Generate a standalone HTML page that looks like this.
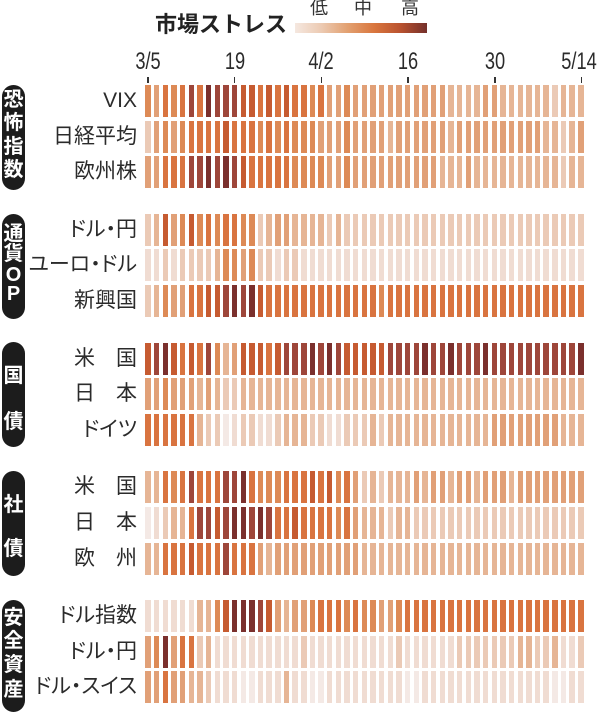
<!DOCTYPE html>
<html><head><meta charset="utf-8">
<style>
*{margin:0;padding:0;box-sizing:border-box}
body{width:600px;height:708px;background:#fff;position:relative;overflow:hidden;font-family:"Liberation Sans","Noto Sans CJK JP",sans-serif;color:#2b2b2b}
.r{position:absolute;left:145.3px;height:32px;display:flex}
.r i{display:block;width:5.4px;height:32px;margin-right:3.27px;flex:none}
.c0{background:#f4e9e5}.c1{background:#f0dcd2}.c2{background:#ebcab6}.c3{background:#e6b595}.c4{background:#e1a077}
.c5{background:#dd8a56}.c6{background:#d97440}.c7{background:#c65b31}.c8{background:#9e463a}.c9{background:#7b302d}
.l{position:absolute;right:463px;height:32px;line-height:32px;font-size:21px;white-space:nowrap;color:#2b2b2b}
.k2{font-feature-settings:"palt"}
.p{position:absolute;left:2px;width:23px;background:#1c1c1c;border-radius:12px;color:#fff;font-weight:bold;font-size:20px;text-align:center}
.p span{position:absolute;left:0;width:23px;height:20px;line-height:20px;display:block}
.t{position:absolute;top:48px;width:60px;margin-left:-30px;text-align:center;font-size:24px;line-height:28px;transform:scaleX(.76);color:#2b2b2b}
.k{position:absolute;top:77px;width:1.6px;height:6px;margin-left:-0.8px;background:#333}
.h{position:absolute;font-size:18px;line-height:18px;top:-1px;color:#333;width:20px;margin-left:-10px;text-align:center}
</style></head><body>

<div style="position:absolute;left:155px;top:12px;font-size:22px;line-height:26px;font-weight:bold;color:#222;white-space:nowrap">市場ストレス</div>
<div style="position:absolute;left:295px;top:22.5px;width:132px;height:10px;background:linear-gradient(to right,#f5e8e0 0%,#eccab2 20%,#e2a070 40%,#d9763e 60%,#b9522f 80%,#74302b 100%)"></div>
<div class="h" style="left:319px">低</div>
<div class="h" style="left:363px">中</div>
<div class="h" style="left:410px">高</div>

<div class="t" style="left:148px">3/5</div>
<div class="t" style="left:234.7px">19</div>
<div class="t" style="left:321.4px">4/2</div>
<div class="t" style="left:408.1px">16</div>
<div class="t" style="left:494.8px">30</div>
<div class="t" style="left:579px">5/14</div>
<div class="k" style="left:148px"></div>
<div class="k" style="left:234.7px"></div>
<div class="k" style="left:321.4px"></div>
<div class="k" style="left:408.1px"></div>
<div class="k" style="left:494.8px"></div>
<div class="k" style="left:581.5px"></div>

<div class="p" style="top:85px;height:105px"><span style="top:5px">恐</span><span style="top:28px">怖</span><span style="top:52px">指</span><span style="top:75px">数</span></div>
<div class="p" style="top:214px;height:105px"><span style="top:10px">通</span><span style="top:30px">貨</span><span style="top:51px">O</span><span style="top:70px">P</span></div>
<div class="p" style="top:342px;height:105px"><span style="top:24px">国</span><span style="top:70px">債</span></div>
<div class="p" style="top:471px;height:105px"><span style="top:24px">社</span><span style="top:68px">債</span></div>
<div class="p" style="top:600px;height:112px"><span style="top:8px">安</span><span style="top:31px">全</span><span style="top:55px">資</span><span style="top:80px">産</span></div>

<div class="l" style="top:85px">VIX</div>
<div class="l" style="top:120.6px">日経平均</div>
<div class="l" style="top:156.2px">欧州株</div>
<div class="l k2" style="top:213.8px">ドル・円</div>
<div class="l k2" style="top:249.4px">ユーロ・ドル</div>
<div class="l" style="top:285px">新興国</div>
<div class="l" style="top:342.6px">米　国</div>
<div class="l" style="top:378.2px">日　本</div>
<div class="l k2" style="top:413.8px">ドイツ</div>
<div class="l" style="top:471.4px">米　国</div>
<div class="l" style="top:507px">日　本</div>
<div class="l" style="top:542.6px">欧　州</div>
<div class="l k2" style="top:600.2px">ドル指数</div>
<div class="l k2" style="top:635.8px">ドル・円</div>
<div class="l k2" style="top:671.4px">ドル・スイス</div>

<!-- VIX -->
<div class="r" style="top:85px"><i class=c5></i><i class=c4></i><i class=c6></i><i class=c5></i><i class=c6></i><i class=c8></i><i class=c6></i><i class=c9></i><i class=c8></i><i class=c8></i><i class=c8></i><i class=c7></i><i class=c7></i><i class=c6></i><i class=c7></i><i class=c6></i><i class=c7></i><i class=c6></i><i class=c6></i><i class=c5></i><i class=c6></i><i class=c4></i><i class=c4></i><i class=c5></i><i class=c4></i><i class=c4></i><i class=c4></i><i class=c4></i><i class=c4></i><i class=c4></i><i class=c4></i><i class=c4></i><i class=c4></i><i class=c4></i><i class=c4></i><i class=c3></i><i class=c3></i><i class=c3></i><i class=c3></i><i class=c4></i><i class=c4></i><i class=c3></i><i class=c3></i><i class=c3></i><i class=c3></i><i class=c3></i><i class=c3></i><i class=c2></i><i class=c3></i><i class=c3></i><i class=c3></i></div>
<!-- 日経平均 -->
<div class="r" style="top:120.6px"><i class=c2></i><i class=c4></i><i class=c5></i><i class=c4></i><i class=c5></i><i class=c6></i><i class=c6></i><i class=c6></i><i class=c6></i><i class=c7></i><i class=c6></i><i class=c6></i><i class=c6></i><i class=c5></i><i class=c6></i><i class=c5></i><i class=c6></i><i class=c5></i><i class=c5></i><i class=c5></i><i class=c4></i><i class=c4></i><i class=c4></i><i class=c5></i><i class=c4></i><i class=c4></i><i class=c4></i><i class=c4></i><i class=c3></i><i class=c4></i><i class=c4></i><i class=c4></i><i class=c4></i><i class=c4></i><i class=c4></i><i class=c3></i><i class=c4></i><i class=c4></i><i class=c4></i><i class=c4></i><i class=c4></i><i class=c4></i><i class=c4></i><i class=c4></i><i class=c4></i><i class=c4></i><i class=c3></i><i class=c3></i><i class=c2></i><i class=c3></i><i class=c4></i></div>
<!-- 欧州株 -->
<div class="r" style="top:156.2px"><i class=c4></i><i class=c4></i><i class=c6></i><i class=c6></i><i class=c6></i><i class=c8></i><i class=c8></i><i class=c9></i><i class=c8></i><i class=c9></i><i class=c8></i><i class=c7></i><i class=c6></i><i class=c6></i><i class=c6></i><i class=c6></i><i class=c6></i><i class=c5></i><i class=c5></i><i class=c5></i><i class=c5></i><i class=c4></i><i class=c4></i><i class=c5></i><i class=c4></i><i class=c4></i><i class=c4></i><i class=c4></i><i class=c4></i><i class=c4></i><i class=c4></i><i class=c4></i><i class=c4></i><i class=c4></i><i class=c3></i><i class=c3></i><i class=c3></i><i class=c4></i><i class=c3></i><i class=c3></i><i class=c3></i><i class=c3></i><i class=c3></i><i class=c3></i><i class=c3></i><i class=c3></i><i class=c3></i><i class=c3></i><i class=c2></i><i class=c3></i><i class=c3></i></div>
<!-- ドル・円 OP -->
<div class="r" style="top:213.8px"><i class=c2></i><i class=c3></i><i class=c7></i><i class=c4></i><i class=c5></i><i class=c7></i><i class=c5></i><i class=c6></i><i class=c5></i><i class=c6></i><i class=c6></i><i class=c5></i><i class=c5></i><i class=c2></i><i class=c3></i><i class=c4></i><i class=c4></i><i class=c3></i><i class=c3></i><i class=c3></i><i class=c3></i><i class=c2></i><i class=c3></i><i class=c2></i><i class=c2></i><i class=c2></i><i class=c2></i><i class=c2></i><i class=c2></i><i class=c2></i><i class=c2></i><i class=c2></i><i class=c2></i><i class=c2></i><i class=c2></i><i class=c2></i><i class=c2></i><i class=c2></i><i class=c2></i><i class=c2></i><i class=c2></i><i class=c2></i><i class=c2></i><i class=c2></i><i class=c2></i><i class=c2></i><i class=c2></i><i class=c2></i><i class=c2></i><i class=c2></i><i class=c2></i></div>
<!-- ユーロ・ドル -->
<div class="r" style="top:249.4px"><i class=c1></i><i class=c1></i><i class=c2></i><i class=c1></i><i class=c2></i><i class=c2></i><i class=c2></i><i class=c2></i><i class=c3></i><i class=c5></i><i class=c5></i><i class=c4></i><i class=c5></i><i class=c2></i><i class=c2></i><i class=c1></i><i class=c2></i><i class=c2></i><i class=c1></i><i class=c1></i><i class=c1></i><i class=c1></i><i class=c1></i><i class=c1></i><i class=c1></i><i class=c1></i><i class=c1></i><i class=c1></i><i class=c1></i><i class=c1></i><i class=c1></i><i class=c1></i><i class=c1></i><i class=c1></i><i class=c1></i><i class=c1></i><i class=c1></i><i class=c1></i><i class=c1></i><i class=c1></i><i class=c1></i><i class=c1></i><i class=c1></i><i class=c1></i><i class=c1></i><i class=c1></i><i class=c1></i><i class=c1></i><i class=c1></i><i class=c1></i><i class=c1></i></div>
<!-- 新興国 -->
<div class="r" style="top:285px"><i class=c2></i><i class=c3></i><i class=c5></i><i class=c4></i><i class=c4></i><i class=c6></i><i class=c6></i><i class=c7></i><i class=c7></i><i class=c8></i><i class=c9></i><i class=c8></i><i class=c9></i><i class=c7></i><i class=c6></i><i class=c6></i><i class=c6></i><i class=c6></i><i class=c6></i><i class=c6></i><i class=c6></i><i class=c6></i><i class=c6></i><i class=c6></i><i class=c6></i><i class=c6></i><i class=c6></i><i class=c5></i><i class=c6></i><i class=c6></i><i class=c6></i><i class=c6></i><i class=c6></i><i class=c6></i><i class=c6></i><i class=c6></i><i class=c6></i><i class=c6></i><i class=c6></i><i class=c6></i><i class=c6></i><i class=c6></i><i class=c6></i><i class=c6></i><i class=c6></i><i class=c6></i><i class=c6></i><i class=c6></i><i class=c6></i><i class=c6></i><i class=c6></i></div>
<!-- 米国債 -->
<div class="r" style="top:342.6px"><i class=c7></i><i class=c8></i><i class=c9></i><i class=c7></i><i class=c6></i><i class=c7></i><i class=c6></i><i class=c8></i><i class=c5></i><i class=c3></i><i class=c4></i><i class=c7></i><i class=c7></i><i class=c7></i><i class=c6></i><i class=c7></i><i class=c8></i><i class=c8></i><i class=c8></i><i class=c9></i><i class=c8></i><i class=c9></i><i class=c8></i><i class=c7></i><i class=c7></i><i class=c7></i><i class=c7></i><i class=c7></i><i class=c8></i><i class=c8></i><i class=c8></i><i class=c8></i><i class=c9></i><i class=c8></i><i class=c8></i><i class=c9></i><i class=c8></i><i class=c8></i><i class=c8></i><i class=c9></i><i class=c8></i><i class=c8></i><i class=c8></i><i class=c8></i><i class=c8></i><i class=c8></i><i class=c8></i><i class=c8></i><i class=c8></i><i class=c8></i><i class=c9></i></div>
<!-- 日本国債 -->
<div class="r" style="top:378.2px"><i class=c4></i><i class=c4></i><i class=c5></i><i class=c4></i><i class=c4></i><i class=c4></i><i class=c3></i><i class=c4></i><i class=c3></i><i class=c2></i><i class=c2></i><i class=c3></i><i class=c3></i><i class=c3></i><i class=c3></i><i class=c3></i><i class=c3></i><i class=c3></i><i class=c3></i><i class=c3></i><i class=c3></i><i class=c3></i><i class=c3></i><i class=c3></i><i class=c3></i><i class=c3></i><i class=c3></i><i class=c3></i><i class=c3></i><i class=c3></i><i class=c3></i><i class=c3></i><i class=c3></i><i class=c3></i><i class=c3></i><i class=c3></i><i class=c3></i><i class=c3></i><i class=c3></i><i class=c3></i><i class=c3></i><i class=c3></i><i class=c3></i><i class=c3></i><i class=c3></i><i class=c3></i><i class=c3></i><i class=c3></i><i class=c3></i><i class=c3></i><i class=c3></i></div>
<!-- ドイツ -->
<div class="r" style="top:413.8px"><i class=c6></i><i class=c6></i><i class=c6></i><i class=c6></i><i class=c6></i><i class=c6></i><i class=c3></i><i class=c2></i><i class=c2></i><i class=c0></i><i class=c1></i><i class=c2></i><i class=c2></i><i class=c1></i><i class=c1></i><i class=c2></i><i class=c3></i><i class=c3></i><i class=c3></i><i class=c2></i><i class=c2></i><i class=c1></i><i class=c1></i><i class=c2></i><i class=c2></i><i class=c2></i><i class=c3></i><i class=c2></i><i class=c3></i><i class=c3></i><i class=c3></i><i class=c3></i><i class=c3></i><i class=c3></i><i class=c3></i><i class=c3></i><i class=c3></i><i class=c3></i><i class=c3></i><i class=c3></i><i class=c4></i><i class=c4></i><i class=c4></i><i class=c4></i><i class=c4></i><i class=c4></i><i class=c4></i><i class=c4></i><i class=c3></i><i class=c3></i><i class=c3></i></div>
<!-- 社債 米国 -->
<div class="r" style="top:471.4px"><i class=c3></i><i class=c3></i><i class=c6></i><i class=c5></i><i class=c6></i><i class=c8></i><i class=c6></i><i class=c6></i><i class=c6></i><i class=c8></i><i class=c8></i><i class=c9></i><i class=c6></i><i class=c5></i><i class=c5></i><i class=c5></i><i class=c6></i><i class=c6></i><i class=c6></i><i class=c7></i><i class=c6></i><i class=c7></i><i class=c5></i><i class=c6></i><i class=c4></i><i class=c2></i><i class=c3></i><i class=c2></i><i class=c3></i><i class=c3></i><i class=c3></i><i class=c4></i><i class=c3></i><i class=c4></i><i class=c4></i><i class=c3></i><i class=c4></i><i class=c4></i><i class=c3></i><i class=c4></i><i class=c4></i><i class=c4></i><i class=c3></i><i class=c4></i><i class=c4></i><i class=c4></i><i class=c4></i><i class=c4></i><i class=c4></i><i class=c4></i><i class=c4></i></div>
<!-- 社債 日本 -->
<div class="r" style="top:507px"><i class=c0></i><i class=c1></i><i class=c2></i><i class=c3></i><i class=c3></i><i class=c6></i><i class=c8></i><i class=c8></i><i class=c7></i><i class=c8></i><i class=c9></i><i class=c9></i><i class=c8></i><i class=c9></i><i class=c8></i><i class=c6></i><i class=c6></i><i class=c7></i><i class=c6></i><i class=c6></i><i class=c6></i><i class=c6></i><i class=c5></i><i class=c6></i><i class=c4></i><i class=c3></i><i class=c3></i><i class=c3></i><i class=c2></i><i class=c3></i><i class=c3></i><i class=c2></i><i class=c2></i><i class=c2></i><i class=c2></i><i class=c2></i><i class=c2></i><i class=c2></i><i class=c2></i><i class=c2></i><i class=c2></i><i class=c2></i><i class=c2></i><i class=c2></i><i class=c2></i><i class=c2></i><i class=c2></i><i class=c2></i><i class=c2></i><i class=c2></i><i class=c2></i></div>
<!-- 社債 欧州 -->
<div class="r" style="top:542.6px"><i class=c3></i><i class=c3></i><i class=c6></i><i class=c6></i><i class=c6></i><i class=c7></i><i class=c6></i><i class=c6></i><i class=c6></i><i class=c8></i><i class=c6></i><i class=c6></i><i class=c6></i><i class=c4></i><i class=c3></i><i class=c4></i><i class=c4></i><i class=c4></i><i class=c4></i><i class=c4></i><i class=c4></i><i class=c4></i><i class=c4></i><i class=c4></i><i class=c4></i><i class=c3></i><i class=c3></i><i class=c3></i><i class=c3></i><i class=c3></i><i class=c3></i><i class=c3></i><i class=c3></i><i class=c3></i><i class=c3></i><i class=c3></i><i class=c3></i><i class=c3></i><i class=c3></i><i class=c3></i><i class=c3></i><i class=c3></i><i class=c3></i><i class=c3></i><i class=c3></i><i class=c3></i><i class=c3></i><i class=c3></i><i class=c3></i><i class=c3></i><i class=c3></i></div>
<!-- ドル指数 -->
<div class="r" style="top:600.2px"><i class=c1></i><i class=c1></i><i class=c1></i><i class=c1></i><i class=c1></i><i class=c1></i><i class=c3></i><i class=c3></i><i class=c5></i><i class=c7></i><i class=c9></i><i class=c9></i><i class=c9></i><i class=c8></i><i class=c7></i><i class=c4></i><i class=c3></i><i class=c4></i><i class=c4></i><i class=c5></i><i class=c6></i><i class=c6></i><i class=c6></i><i class=c5></i><i class=c6></i><i class=c5></i><i class=c5></i><i class=c4></i><i class=c4></i><i class=c5></i><i class=c6></i><i class=c6></i><i class=c6></i><i class=c6></i><i class=c6></i><i class=c6></i><i class=c6></i><i class=c6></i><i class=c6></i><i class=c6></i><i class=c6></i><i class=c6></i><i class=c6></i><i class=c6></i><i class=c6></i><i class=c6></i><i class=c6></i><i class=c6></i><i class=c6></i><i class=c6></i><i class=c6></i></div>
<!-- ドル・円 safe -->
<div class="r" style="top:635.8px"><i class=c4></i><i class=c5></i><i class=c9></i><i class=c4></i><i class=c6></i><i class=c6></i><i class=c2></i><i class=c3></i><i class=c1></i><i class=c1></i><i class=c1></i><i class=c1></i><i class=c1></i><i class=c1></i><i class=c1></i><i class=c1></i><i class=c1></i><i class=c1></i><i class=c2></i><i class=c1></i><i class=c1></i><i class=c1></i><i class=c1></i><i class=c1></i><i class=c1></i><i class=c1></i><i class=c1></i><i class=c1></i><i class=c1></i><i class=c2></i><i class=c1></i><i class=c1></i><i class=c1></i><i class=c1></i><i class=c1></i><i class=c1></i><i class=c2></i><i class=c2></i><i class=c2></i><i class=c2></i><i class=c2></i><i class=c2></i><i class=c2></i><i class=c3></i><i class=c3></i><i class=c2></i><i class=c2></i><i class=c3></i><i class=c1></i><i class=c1></i><i class=c2></i></div>
<!-- ドル・スイス -->
<div class="r" style="top:671.4px"><i class=c4></i><i class=c4></i><i class=c6></i><i class=c4></i><i class=c4></i><i class=c3></i><i class=c3></i><i class=c2></i><i class=c1></i><i class=c1></i><i class=c1></i><i class=c0></i><i class=c0></i><i class=c1></i><i class=c1></i><i class=c1></i><i class=c3></i><i class=c1></i><i class=c1></i><i class=c0></i><i class=c0></i><i class=c1></i><i class=c1></i><i class=c1></i><i class=c1></i><i class=c1></i><i class=c1></i><i class=c1></i><i class=c1></i><i class=c1></i><i class=c0></i><i class=c0></i><i class=c1></i><i class=c1></i><i class=c1></i><i class=c1></i><i class=c1></i><i class=c1></i><i class=c1></i><i class=c1></i><i class=c1></i><i class=c1></i><i class=c1></i><i class=c1></i><i class=c1></i><i class=c1></i><i class=c1></i><i class=c0></i><i class=c0></i><i class=c1></i><i class=c1></i></div>

</body></html>
